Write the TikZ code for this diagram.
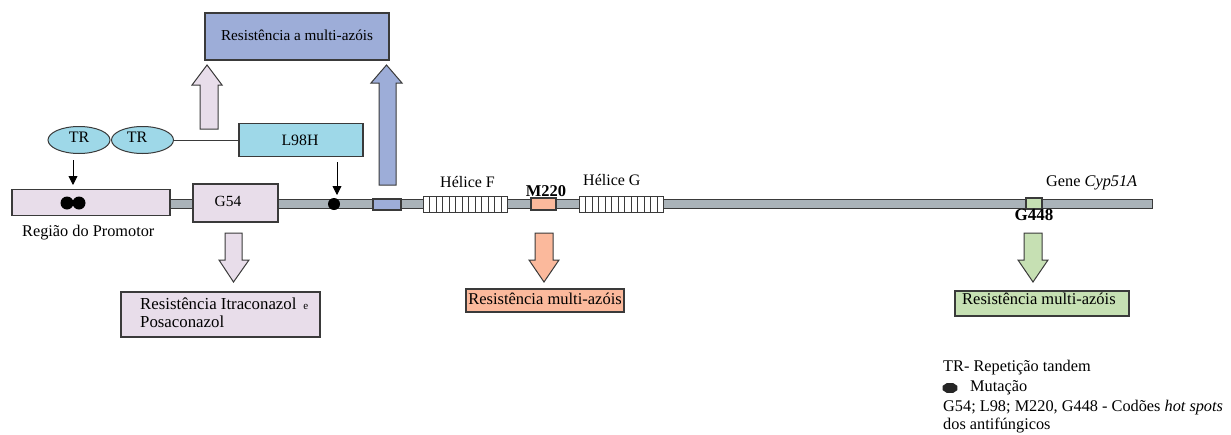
\documentclass[tikz,border=0pt]{standalone}
\usepackage{fontspec}
\setmainfont{Liberation Serif}
\usetikzlibrary{shapes.geometric,arrows.meta}
\definecolor{pinkf}{HTML}{E8DDEA}
\definecolor{bluef}{HTML}{9DADD8}
\definecolor{cyanf}{HTML}{9ED8E8}
\definecolor{barf}{HTML}{AAB3B9}
\definecolor{orangef}{HTML}{FBB99C}
\definecolor{greenf}{HTML}{C6E0B3}
\definecolor{edge}{HTML}{3A3A3A}
\tikzset{
  box/.style={draw=edge, line width=1.1pt, inner sep=0pt},
  lbl/.style={inner sep=0pt, font=\fontsize{16.3}{18}\selectfont},
  blbl/.style={inner sep=0pt, font=\fontsize{16.5}{18}\selectfont\bfseries},
  blk/.style={draw=edge, line width=1pt, line join=miter},
  thinarrow/.style={draw=black, line width=0.9pt, -{Triangle[length=9pt,width=9pt]}},
  dot/.style={circle, fill=black, inner sep=0pt, minimum size=13pt},
  tre/.style={ellipse, draw=edge, line width=1pt, fill=cyanf, minimum width=62pt, minimum height=27pt, inner sep=0pt}
}
\begin{document}
\begin{tikzpicture}[x=1pt,y=-1pt]
\useasboundingbox (0,0) rectangle (1231,434);
% gene bar
\node[box, fill=barf, line width=1pt, minimum width=984pt, minimum height=9pt] (bar) at (660,203.5) {};
% promoter
\node[box, fill=pinkf, minimum width=158pt, minimum height=26pt] (prom) at (91,202.5) {};
\node[dot] (d1) at (67,203) {};
\node[dot] (d2) at (79,203) {};
\node[lbl, anchor=west] (promtxt) at (22,233) {Região do Promotor};
% G54
\node[box, fill=pinkf, minimum width=85pt, minimum height=38pt] (g54) at (235.5,203) {};
\node[lbl, font=\fontsize{15.5}{18}\selectfont] (g54t) at (228,201) {G54};
% mutation dot
\node[dot, minimum size=12pt] (mut) at (334,204) {};
% small blue box
\node[box, fill=bluef, minimum width=28pt, minimum height=11pt] (bsm) at (387,204.5) {};
% helices
\node[box, fill=white, line width=0.9pt, minimum width=84pt, minimum height=16pt] (hf) at (465,204) {};
\foreach \i in {1,...,12} \draw[line width=0.8pt, edge] (423+6.5*\i,196) -- (423+6.5*\i,212);
\node[box, fill=white, line width=0.9pt, minimum width=84pt, minimum height=16pt] (hg) at (621,204) {};
\foreach \i in {1,...,12} \draw[line width=0.8pt, edge] (579+6.5*\i,196) -- (579+6.5*\i,212);
\node[lbl, font=\fontsize{16}{18}\selectfont, anchor=west] (hft) at (440,182) {Hélice F};
\node[lbl, font=\fontsize{16}{18}\selectfont, anchor=west] (hgt) at (583,180) {Hélice G};
% M220
\node[box, fill=orangef, minimum width=25pt, minimum height=12pt] (m220) at (543.5,204) {};
\node[blbl] (m220t) at (546,191) {M220};
% G448
\node[box, fill=greenf, minimum width=16pt, minimum height=11pt] (g448) at (1034,203.5) {};
\node[blbl, font=\fontsize{17}{18}\selectfont\bfseries] (g448t) at (1034,215) {G448};
\node[lbl, anchor=west] (gene) at (1046,183) {Gene \textit{Cyp51A}};
% TR ellipses and L98H
\node[tre] (tr1) at (79,140) {};
\node[lbl, font=\fontsize{16}{18}\selectfont] at (79,137) {TR};
\node[tre] (tr2) at (142.5,140) {};
\node[lbl, font=\fontsize{16}{18}\selectfont] at (137,137) {TR};
\node[box, fill=cyanf, minimum width=124pt, minimum height=33pt] (l98) at (301,140) {};
\node[lbl, font=\fontsize{15.8}{18}\selectfont] (l98t) at (300,140) {L98H};
\draw[edge, line width=1pt] (tr2.east) -- (l98.west);
% thin arrows
\coordinate (a1s) at (73,160); \coordinate (a1e) at (73,185);
\draw[thinarrow] (a1s) -- (a1e);
\coordinate (a2s) at (337,162); \coordinate (a2e) at (337,195);
\draw[thinarrow] (a2s) -- (a2e);
% top box
\node[box, fill=bluef, minimum width=184pt, minimum height=47pt] (top) at (297,36.5) {};
\node[lbl, font=\fontsize{15.2}{18}\selectfont] (topt) at (297,35) {Resistência a multi-azóis};
% up arrows
\draw[blk, fill=pinkf] (200,129) -- (200,85) -- (192,85) -- (207,65) -- (222,85) -- (218,85) -- (218,129) -- cycle;
\draw[blk, fill=bluef] (379,185) -- (379,83) -- (371,83) -- (386.5,65) -- (402,83) -- (396,83) -- (396,185) -- cycle;
% down arrows
\draw[blk, fill=pinkf] (225,233) -- (242,233) -- (242,260) -- (249,260) -- (233.5,282) -- (219,260) -- (225,260) -- cycle;
\draw[blk, fill=orangef] (535,233) -- (553,233) -- (553,260) -- (559,260) -- (544,282) -- (529,260) -- (535,260) -- cycle;
\draw[blk, fill=greenf] (1024,233) -- (1042,233) -- (1042,260) -- (1048,260) -- (1033,282) -- (1018,260) -- (1024,260) -- cycle;
% result boxes
\node[box, fill=pinkf, minimum width=199pt, minimum height=45pt] (itra) at (220.5,314.5) {};
\node[lbl, font=\fontsize{16.8}{18}\selectfont, anchor=west] (itra1) at (140,304) {Resistência Itraconazol \,{\fontsize{11}{12}\selectfont e}};
\node[lbl, font=\fontsize{16.8}{18}\selectfont, anchor=west] (itra2) at (140,322) {Posaconazol};
\node[box, fill=orangef, minimum width=158pt, minimum height=23pt] (rm) at (545,300.5) {};
\node[lbl, font=\fontsize{16.5}{18}\selectfont] (rmt) at (545,299) {Resistência multi-azóis};
\node[box, fill=greenf, minimum width=174pt, minimum height=25pt] (rg) at (1042,303.5) {};
\node[lbl, font=\fontsize{16.5}{18}\selectfont, anchor=west] (rgt) at (962,299) {Resistência multi-azóis};
% legend
\node[lbl, anchor=west] (l1) at (943,368) {TR- Repetição tandem};
\node[regular polygon, regular polygon sides=8, fill=black!85, inner sep=0pt, minimum size=12pt, xscale=1.35, yscale=0.9] (oct) at (950,388) {};
\node[lbl, anchor=west] (l2) at (970,388) {Mutação};
\node[lbl, anchor=west] (l3) at (943,408) {G54; L98; M220, G448 - Codões \textit{hot spots}};
\node[lbl, anchor=west] (l4) at (943,426) {dos antifúngicos};
\end{tikzpicture}
\end{document}
